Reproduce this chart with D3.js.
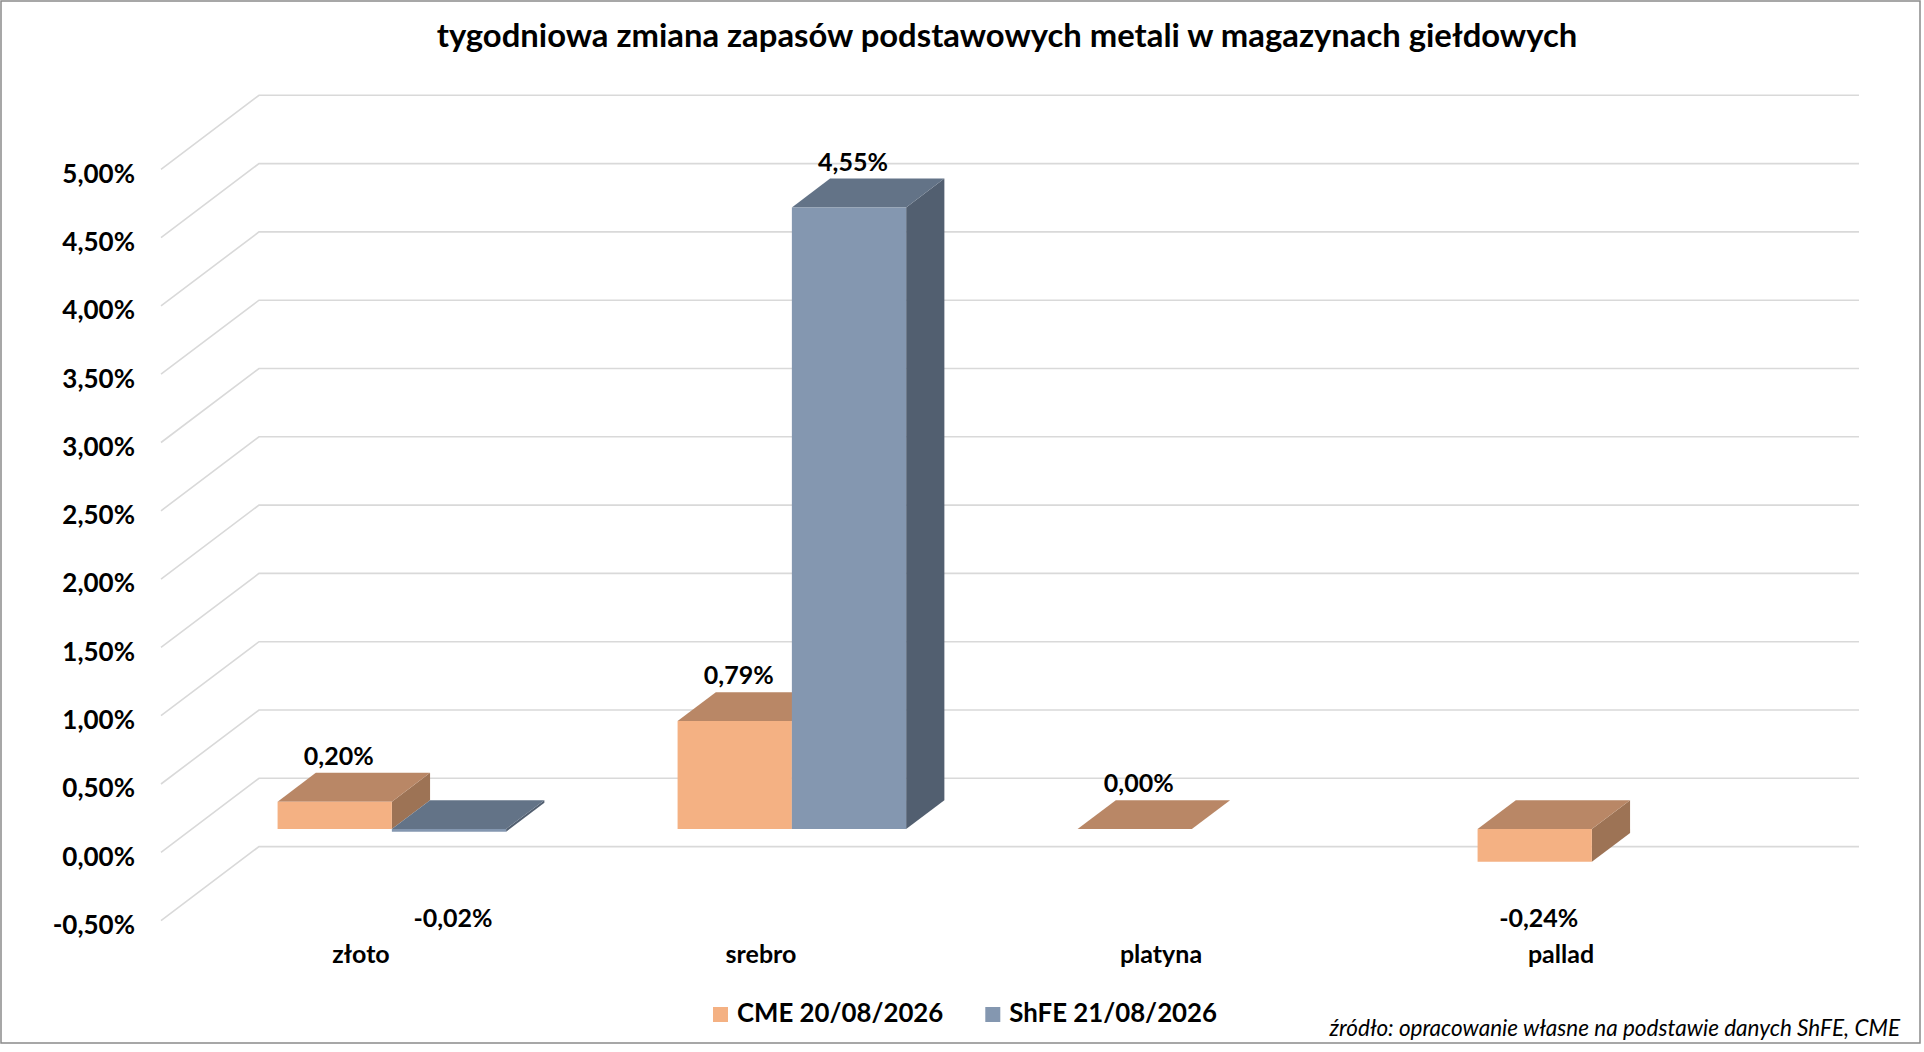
<!DOCTYPE html>
<html>
<head>
<meta charset="utf-8">
<script src="https://cdn.jsdelivr.net/npm/d3@7"></script>
<style>
  body { margin: 0; background: #fff; }
  text { font-family: Lato, "Open Sans", sans-serif; fill: #000; }
</style>
</head>
<body>
<svg id="chart"></svg>
<script>
// data
var categories = ["złoto", "srebro", "platyna", "pallad"];
var seriesNames = ["CME 20/08/2026", "ShFE 21/08/2026"];
var cmeValues = [0.20, 0.79, 0.00, -0.24];
var shfeValues = [-0.02, 4.55, null, null];
var yTickValues = [-0.5, 0, 0.5, 1, 1.5, 2, 2.5, 3, 3.5, 4, 4.5, 5];

var full_width = 1924, full_height = 1052;

var colors = [
  { front: "#F4B183", top: "#B98766", side: "#9D7355" },
  { front: "#8497B0", top: "#637387", side: "#525F70" }
];

var svg = d3.select("#chart")
    .attr("width", full_width)
    .attr("height", full_height);

svg.append("rect")
    .attr("x", 1).attr("y", 1)
    .attr("width", 1919).attr("height", 1042)
    .attr("fill", "#fff")
    .attr("stroke", "#8a8a8a")
    .attr("stroke-width", 1.5);

// oblique 3d: front plane + depth vector
var depthX = 98, depthY = -74;
var t0 = 0.315, t1 = 0.705; // bar depth between these fractions

var x0 = d3.scaleBand()
    .domain(categories)
    .range([161, 1761]);

var x1 = d3.scaleBand()
    .domain([0, 1])
    .range([0, x0.bandwidth()])
    .paddingInner(0)
    .paddingOuter(0.75);

var y = d3.scaleLinear()
    .domain([-0.5, 5])
    .range([920.6, 169.3]);

var pl = d3.formatLocale({ decimal: ",", thousands: " ", grouping: [3], currency: ["", ""], minus: "-" });
var fmt = function(v) { return pl.format(".2f")(v) + "%"; };

function proj(px, py, t) { return [px + t * depthX, py + t * depthY]; }
function poly(pts) { return "M" + pts.map(function(p) { return p.join(","); }).join("L") + "Z"; }

// gridlines (side wall + back wall)
svg.append("g").selectAll("path")
  .data(yTickValues)
  .enter().append("path")
    .attr("fill", "none")
    .attr("stroke", "#d9d9d9")
    .attr("stroke-width", 1.6)
    .attr("d", function(v) {
      var a = proj(x0.range()[0], y(v), 0),
          b = proj(x0.range()[0], y(v), 1),
          c = proj(x0.range()[1], y(v), 1);
      return "M" + a + "L" + b + "L" + c;
    });

// y axis labels
svg.append("g")
    .attr("font-size", 26)
    .attr("font-weight", "bold")
    .attr("text-anchor", "end")
  .selectAll("text")
  .data(yTickValues)
  .enter().append("text")
    .attr("x", 135)
    .attr("y", function(v) { return y(v) + 4; })
    .attr("dy", "0.36em")
    .text(fmt);

// bars
var bars = [];
categories.forEach(function(c, i) {
  [cmeValues[i], shfeValues[i]].forEach(function(v, s) {
    if (v !== null) bars.push({ cat: c, series: s, value: v });
  });
});

var barG = svg.append("g").selectAll("g")
  .data(bars)
  .enter().append("g");

function corners(d) {
  var xl = x0(d.cat) + x1(d.series),
      xr = xl + x1.bandwidth(),
      yt = y(Math.max(0, d.value)),
      yb = y(Math.min(0, d.value));
  return { xl: xl, xr: xr, yt: yt, yb: yb };
}

barG.append("path")
    .attr("fill", function(d) { return colors[d.series].side; })
    .attr("d", function(d) {
      var k = corners(d);
      return poly([proj(k.xr, k.yt, t0), proj(k.xr, k.yt, t1), proj(k.xr, k.yb, t1), proj(k.xr, k.yb, t0)]);
    });

barG.append("path")
    .attr("fill", function(d) { return colors[d.series].top; })
    .attr("d", function(d) {
      var k = corners(d);
      return poly([proj(k.xl, k.yt, t0), proj(k.xr, k.yt, t0), proj(k.xr, k.yt, t1), proj(k.xl, k.yt, t1)]);
    });

barG.append("path")
    .attr("fill", function(d) { return colors[d.series].front; })
    .attr("d", function(d) {
      var k = corners(d);
      return poly([proj(k.xl, k.yt, t0), proj(k.xr, k.yt, t0), proj(k.xr, k.yb, t0), proj(k.xl, k.yb, t0)]);
    });

// data labels (negative ones hang below the plot)
svg.append("g")
    .attr("font-size", 25)
    .attr("font-weight", "bold")
    .attr("text-anchor", "middle")
  .selectAll("text")
  .data(bars)
  .enter().append("text")
    .attr("x", function(d) { return x0(d.cat) + x1(d.series) + x1.bandwidth() / 2 + t0 * depthX + 4; })
    .attr("y", function(d) {
      if (d.value < 0) return y(-0.5) + 6;
      return y(d.value) + t1 * depthY - 8;
    })
    .text(function(d) { return fmt(d.value); });

// category labels
svg.append("g")
    .attr("font-size", 25)
    .attr("font-weight", "bold")
    .attr("text-anchor", "middle")
  .selectAll("text")
  .data(categories)
  .enter().append("text")
    .attr("x", function(c) { return x0(c) + x0.bandwidth() / 2; })
    .attr("y", 963)
    .text(function(c) { return c; });

// title
svg.append("text")
    .attr("x", 1007)
    .attr("y", 47)
    .attr("text-anchor", "middle")
    .attr("font-size", 32.8)
    .attr("font-weight", "bold")
    .text("tygodniowa zmiana zapasów podstawowych metali w magazynach giełdowych");

// legend
var legend = svg.append("g")
    .attr("font-size", 25.8)
    .attr("font-weight", "bold");

var items = legend.selectAll("g")
  .data(seriesNames)
  .enter().append("g");

items.append("rect")
    .attr("width", 15)
    .attr("height", 15)
    .attr("y", 1007)
    .attr("fill", function(d, i) { return colors[i].front; });

items.append("text")
    .attr("x", 24)
    .attr("y", 1022)
    .text(function(d) { return d; });

var offs = 0, widths = [];
items.each(function() {
  widths.push(24 + d3.select(this).select("text").node().getComputedTextLength());
});
var total = d3.sum(widths) + 42 * (widths.length - 1);
items.attr("transform", function(d, i) {
  var x = 965 - total / 2 + offs;
  offs += widths[i] + 42;
  return "translate(" + x + ",0)";
});

// source
svg.append("text")
    .attr("x", 1900)
    .attr("y", 1036)
    .attr("text-anchor", "end")
    .attr("font-size", 22.5)
    .attr("font-style", "italic")
    .text("źródło: opracowanie własne na podstawie danych ShFE, CME");
</script>
</body>
</html>
